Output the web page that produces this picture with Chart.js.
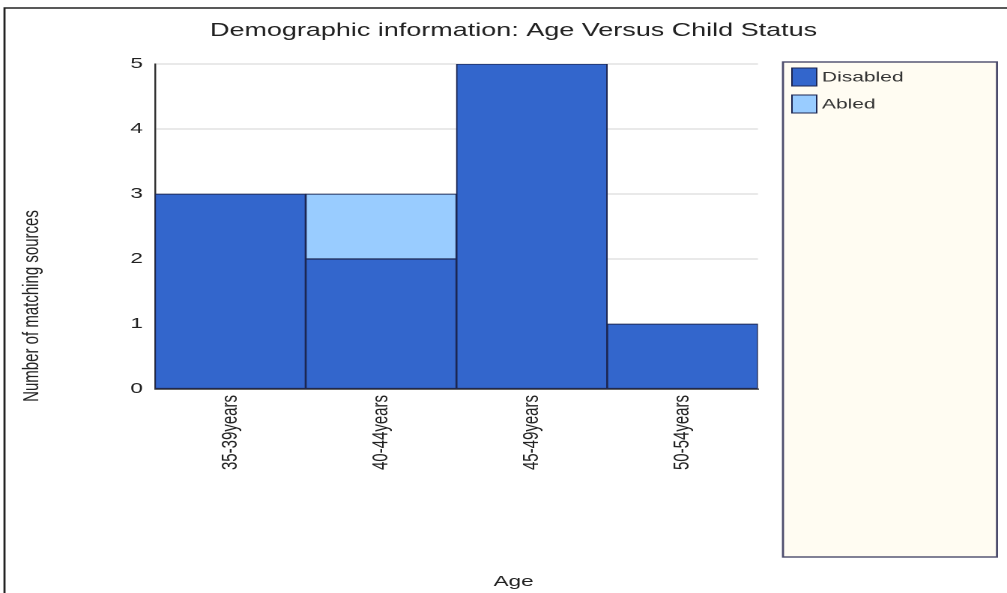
<!DOCTYPE html>
<html>
<head>
<meta charset="utf-8">
<script src="https://cdn.jsdelivr.net/npm/chart.js@4.4.1/dist/chart.umd.min.js"></script>
<style>
  html, body { margin: 0; padding: 0; background: #fff; overflow: hidden; }
  /* the source picture is stretched about 1.5x sideways, so draw narrow and stretch */
  #wrap { width: 672px; height: 593px; transform: scaleX(1.49851); transform-origin: 0 0; }
</style>
</head>
<body>
<div id="wrap"><canvas id="chart" width="672" height="593"></canvas></div>
<script>
const ageGroups = ['35-39years', '40-44years', '45-49years', '50-54years'];
const disabledCounts = [3, 2, 5, 1];
const abledCounts = [0, 1, 0, 0];
const seriesNames = ['Disabled', 'Abled'];
const seriesColors = ['#3366CC', '#99CCFF'];

const chartTitle = 'Demographic information: Age Versus Child Status';
const xTitle = 'Age';
const yTitle = 'Number of matching sources';

const FONT = "'Liberation Sans', Arial, sans-serif";

// white page with the thin frame on the left and top
const framePlugin = {
    id: 'frame',
    beforeDraw(chart) {
        const ctx = chart.ctx;
        ctx.save();
        ctx.fillStyle = '#fff';
        ctx.fillRect(0, 0, chart.width, chart.height);
        ctx.strokeStyle = '#222';
        ctx.lineWidth = 1.4;
        ctx.beginPath();
        ctx.moveTo(3, chart.height);
        ctx.lineTo(3, 8);
        ctx.lineTo(chart.width, 8);
        ctx.stroke();
        ctx.restore();
    }
};

// titles are centred on the page, not on the plot, so draw them here
const titlePlugin = {
    id: 'pageTitles',
    afterDraw(chart) {
        const ctx = chart.ctx;
        ctx.save();
        ctx.fillStyle = '#222';
        ctx.textAlign = 'center';
        ctx.textBaseline = 'middle';
        ctx.font = '18px ' + FONT;
        ctx.fillText(chartTitle, 342.7, 31);
        ctx.font = '15px ' + FONT;
        ctx.fillText(xTitle, 342.7, 582);
        ctx.translate(21.4, 306);
        ctx.rotate(-Math.PI / 2);
        ctx.fillText(yTitle, 0, 0);
        ctx.restore();
    }
};

// tall cream legend box on the right
const legendBoxPlugin = {
    id: 'legendBox',
    afterDraw(chart) {
        const ctx = chart.ctx;
        const x0 = 522.5, y0 = 62, x1 = 665.3, y1 = 557;
        ctx.save();
        ctx.fillStyle = '#FFFCF2';
        ctx.fillRect(x0, y0, x1 - x0, y1 - y0);
        ctx.strokeStyle = '#4b4b6b';
        ctx.lineWidth = 1.4;
        ctx.strokeRect(x0, y0, x1 - x0, y1 - y0);
        ctx.font = '14px ' + FONT;
        ctx.textBaseline = 'middle';
        chart.data.datasets.forEach((ds, i) => {
            const top = 68 + i * 27;
            ctx.fillStyle = ds.backgroundColor;
            ctx.fillRect(x0 + 6, top, 16.5, 18);
            ctx.strokeStyle = '#1d2752';
            ctx.lineWidth = 1;
            ctx.strokeRect(x0 + 6, top, 16.5, 18);
            ctx.fillStyle = '#333';
            ctx.fillText(ds.label, x0 + 26, top + 9.5);
        });
        ctx.restore();
    }
};

const ctx = document.getElementById('chart').getContext('2d');

new Chart(ctx, {
    type: 'bar',
    data: {
        labels: ageGroups,
        datasets: [
            {
                label: seriesNames[0],
                data: disabledCounts,
                backgroundColor: seriesColors[0],
                borderColor: '#1d2752',
                borderWidth: 1,
                borderSkipped: false,
                barPercentage: 1,
                categoryPercentage: 1,
            },
            {
                label: seriesNames[1],
                data: abledCounts,
                backgroundColor: seriesColors[1],
                borderColor: '#1d2752',
                borderWidth: 1,
                borderSkipped: false,
                barPercentage: 1,
                categoryPercentage: 1,
            },
        ],
    },
    options: {
        responsive: false,
        devicePixelRatio: 2,
        animation: false,
        layout: {
            padding: { left: 3, top: 64, right: 166.2, bottom: 0 },
        },
        plugins: {
            legend: { display: false },
            title: { display: false },
            tooltip: { enabled: false },
        },
        scales: {
            x: {
                stacked: true,
                grid: { display: false, drawTicks: false },
                border: { display: true, color: '#333', width: 1.2 },
                ticks: {
                    autoSkip: false,
                    minRotation: 90,
                    maxRotation: 90,
                    padding: 6,
                    color: '#222',
                    font: { family: FONT, size: 15 },
                },
                afterFit: (scale) => { scale.height = 204; },
            },
            y: {
                stacked: true,
                min: 0,
                max: 5,
                ticks: {
                    stepSize: 1,
                    padding: 8,
                    color: '#222',
                    font: { family: FONT, size: 15 },
                },
                grid: { color: '#d4d4d4', drawTicks: false },
                border: { color: '#333', width: 1.2 },
                afterFit: (scale) => { scale.width = 100.4; },
            },
        },
    },
    plugins: [framePlugin, titlePlugin, legendBoxPlugin],
});
</script>
</body>
</html>
